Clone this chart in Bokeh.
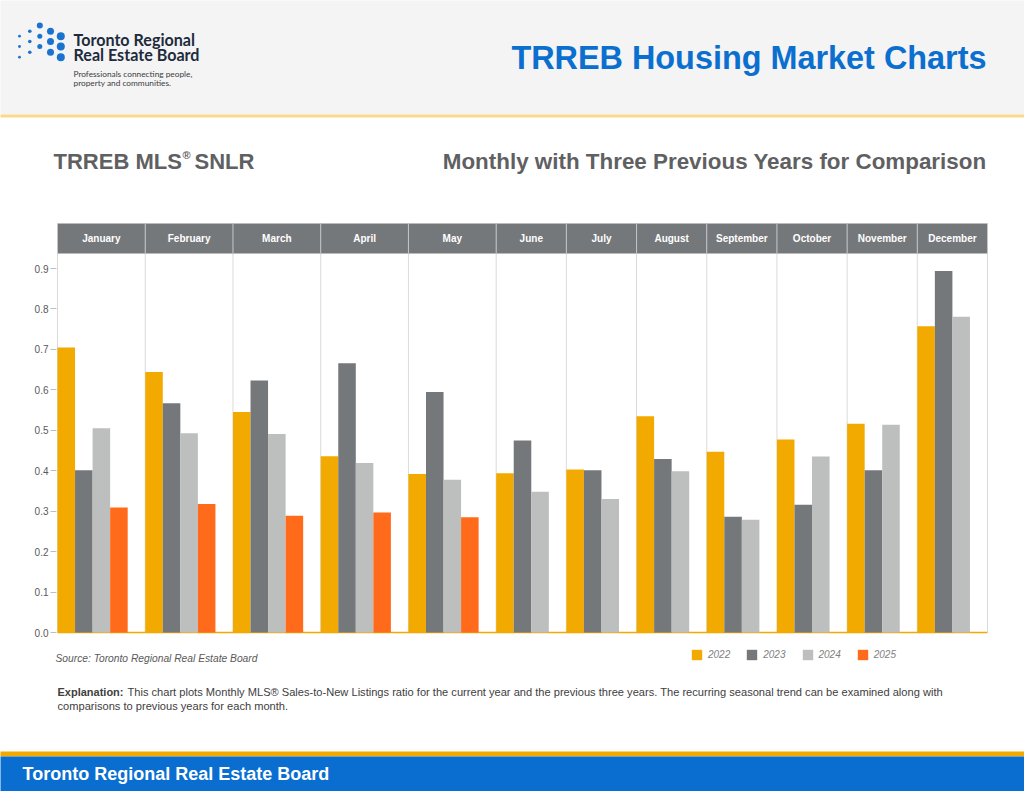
from bokeh.plotting import figure
from bokeh.models import (Range1d, FixedTicker, PrintfTickFormatter, Legend, LegendItem, LinearAxis)
from bokeh.core.properties import value
from bokeh.embed import file_html
from bokeh.resources import INLINE

# ---------------- data ----------------
months = ["January", "February", "March", "April", "May", "June", "July",
          "August", "September", "October", "November", "December"]
years = ["2022", "2023", "2024", "2025"]
v2022 = [0.705, 0.644, 0.545, 0.436, 0.392, 0.394, 0.403, 0.535, 0.447, 0.477, 0.516, 0.757]
v2023 = [0.401, 0.567, 0.623, 0.666, 0.595, 0.475, 0.401, 0.429, 0.286, 0.316, 0.401, 0.894]
v2024 = [0.505, 0.493, 0.491, 0.419, 0.378, 0.348, 0.330, 0.399, 0.279, 0.435, 0.514, 0.781]
v2025 = [0.309, 0.318, 0.289, 0.297, 0.285, None, None, None, None, None, None, None]
y_ticks = [0.0, 0.1, 0.2, 0.3, 0.4, 0.5, 0.6, 0.7, 0.8, 0.9]

series = [v2022, v2023, v2024, v2025]
colors = ["#F2A900", "#75787B", "#BDBEBE", "#FF6B1A"]

FONT = value("Liberation Sans")
LATO = value("Lato")

# ---------------- slot layout ----------------
xs = [[] for _ in series]
tops = [[] for _ in series]
bounds = [0]
start = 0
for i in range(len(months)):
    present = [k for k in range(len(series)) if series[k][i] is not None]
    for j, k in enumerate(present):
        xs[k].append(start + j + 0.5)
        tops[k].append(series[k][i])
    start += len(present) + 1
    bounds.append(start)
nslots = start

W, H = 1024, 791
S = 930.0 / nslots            # page pixels per slot
def sx(px):
    return (px - 57) / S
def vy(py):
    return (632 - py) / 404.4

p = figure(width=W, height=H, x_range=Range1d(0, W), y_range=Range1d(H, 0),
           x_axis_location=None, y_axis_location=None, toolbar_location=None,
           output_backend="svg", min_border=0, title=None)
p.grid.visible = False
p.outline_line_color = None
p.background_fill_color = "#FFFFFF"
p.border_fill_color = "#FFFFFF"
p.extra_x_ranges = {"slot": Range1d(sx(0), sx(W))}
p.extra_y_ranges = {"val": Range1d(vy(H), vy(0))}

def txt(x, y, text, size, color, style="normal", align="left", font=FONT):
    p.text(x=[x], y=[y], text=[text], text_font=font, text_font_size=size, text_font_style=style,
           text_color=color, text_align=align, text_baseline="middle")

# ---------------- page decoration ----------------
p.quad(left=[-5, -5, -5, -5], right=[W + 5] * 4, top=[-5, 114, 751, 756], bottom=[114, 117, 756, H + 5],
       fill_color=["#F4F4F4", "#FBD98B", "#F2A900", "#0A6ED1"], line_color=None)

dot_x = [39.3, 29.3, 50, 19, 39.3, 60.3, 29.3, 50, 19, 39.3, 60.3, 29.3, 50, 19, 60.3]
dot_y = [25, 30.7, 30.7, 35.7, 35.7, 35.7, 41, 41, 46, 46, 46, 51.7, 51.7, 56.7, 56.7]
dot_s = [6, 3.6, 7, 2.8, 5, 8, 3.6, 7, 2.8, 5, 8, 3.6, 7, 2.8, 8]
p.scatter(x=dot_x, y=dot_y, size=dot_s, fill_color="#1A73CF", line_color=None)

txt(73, 39, "Toronto Regional", "16.1px", "#1D2B3C", style="bold", font=LATO)
txt(73, 54, "Real Estate Board", "16.1px", "#1D2B3C", style="bold", font=LATO)
txt(73, 73.5, "Professionals connecting people,", "8.3px", "#3A3D42", font=LATO)
txt(73, 82.5, "property and communities.", "8.3px", "#3A3D42", font=LATO)
txt(986, 57, "TRREB Housing Market Charts", "32.4px", "#0B6FCF", style="bold", align="right")

txt(53, 161, "TRREB MLS", "22px", "#5F6062", style="bold")
txt(182, 154, "®", "11px", "#5F6062", style="bold")
txt(194, 161, "SNLR", "22px", "#5F6062", style="bold")
txt(986, 161, "Monthly with Three Previous Years for Comparison", "22.4px", "#5F6062",
    style="bold", align="right")

txt(57, 691, "Explanation:", "11px", "#404040", style="bold")
txt(127, 691, "This chart plots Monthly MLS® Sales-to-New Listings ratio for the current year and the "
    "previous three years. The recurring seasonal trend can be examined along with", "11.1px", "#404040")
txt(57, 705, "comparisons to previous years for each month.", "11.1px", "#404040")
txt(22, 773, "Toronto Regional Real Estate Board", "18px", "#FFFFFF", style="bold")
txt(55, 658, "Source: Toronto Regional Real Estate Board", "10.25px", "#595959", style="italic")

# ---------------- chart ----------------
R = dict(x_range_name="slot", y_range_name="val")
p.segment(x0=bounds, y0=[0] * len(bounds), x1=bounds, y1=[vy(253)] * len(bounds),
          line_color="#DADADA", line_width=1, **R)
p.segment(x0=[0], y0=[0], x1=[nslots], y1=[0], line_color="#F2A900", line_width=1.5, **R)

renderers = []
for k in range(len(series)):
    r = p.vbar(x=xs[k], top=tops[k], bottom=0, width=1.0, fill_color=colors[k], line_color=None, **R)
    renderers.append(r)

p.quad(left=bounds[:-1], right=bounds[1:], bottom=[vy(253)] * len(months), top=[vy(223)] * len(months),
       fill_color="#75787B", line_color=None, **R)
p.segment(x0=bounds, y0=[vy(253)] * len(bounds), x1=bounds, y1=[vy(223)] * len(bounds),
          line_color="#C4C5C6", line_width=1, **R)
centers = [(bounds[i] + bounds[i + 1]) / 2 for i in range(len(months))]
p.text(x=centers, y=[vy(237.5)] * len(months), text=months, text_font=FONT,
       text_font_size="10px", text_font_style="bold", text_color="#FFFFFF",
       text_align="center", text_baseline="middle", **R)

yax = LinearAxis(y_range_name="val", fixed_location=56,
                 ticker=FixedTicker(ticks=y_ticks), formatter=PrintfTickFormatter(format="%.1f"))
yax.axis_line_color = None
yax.major_tick_line_color = "#BFBFBF"
yax.major_tick_out = 6
yax.major_tick_in = 0
yax.minor_tick_line_color = None
yax.major_label_text_font = "Liberation Sans"
yax.major_label_text_font_size = "10px"
yax.major_label_text_color = "#595959"
yax.major_label_standoff = 2
p.add_layout(yax, "left")

legend = Legend(items=[LegendItem(label=years[k], renderers=[renderers[k]]) for k in range(len(years))],
                orientation="horizontal", location=(690, 130), padding=0, margin=0, spacing=15,
                glyph_width=13, glyph_height=13, label_standoff=5, label_width=22, label_height=13,
                label_text_font="Liberation Sans", label_text_font_size="10px",
                label_text_font_style="italic", label_text_color="#7F7F7F",
                border_line_color=None, background_fill_alpha=0)
p.add_layout(legend)

open("out.html", "w").write(file_html(p, INLINE))
